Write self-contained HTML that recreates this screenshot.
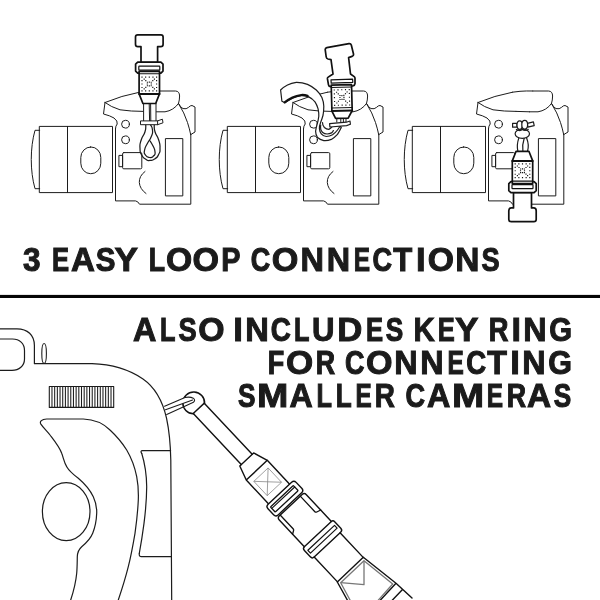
<!DOCTYPE html>
<html>
<head>
<meta charset="utf-8">
<title>3 Easy Loop Connections</title>
<style>
html,body{margin:0;padding:0;background:#fff;width:600px;height:600px;overflow:hidden}
svg{display:block}
text{font-family:"Liberation Sans",sans-serif;font-weight:bold;font-size:33.58px;fill:#1b1b1b;stroke:#1b1b1b;stroke-width:1.00px;stroke-linejoin:miter;vector-effect:non-scaling-stroke}
.c{fill:none;stroke:#1c1c1c;stroke-width:1;stroke-linejoin:round;stroke-linecap:round}
.w{fill:#fff;stroke:#1c1c1c;stroke-width:1;stroke-linejoin:round;stroke-linecap:round}
.k{fill:#fff;stroke:#111;stroke-width:1.7;stroke-linejoin:round;stroke-linecap:round}
.kn{fill:none;stroke:#111;stroke-width:1.7;stroke-linejoin:round;stroke-linecap:round}
.t{fill:none;stroke:#1c1c1c;stroke-width:0.8;stroke-linejoin:round;stroke-linecap:round}
.g{fill:none;stroke:#808080;stroke-width:0.7}
</style>
</head>
<body>
<svg width="600" height="600" viewBox="0 0 600 600">
<defs>
  <!-- camera (side view) in camera-1 coordinates -->
  <g id="lens">
    <rect class="c" x="39.7" y="126.4" width="72.8" height="66.2"/>
    <path class="c" d="M67.5,126.4V192.6"/>
    <path class="c" d="M39.7,130.3H35C30,148 30,171 35,188.7H39.7"/>
    <rect class="c" x="80.8" y="147" width="20" height="26.7" rx="9.8" ry="10.5"/>
  </g>
  <g id="bodytop">
    <!-- pentaprism top -->
    <path class="c" d="M105,102.5Q121.5,95.6 139.5,92.2"/>
    <path class="c" d="M159.8,91H175.5Q179.5,91.2 179.6,96Q179.6,100 178.5,103.5"/>
    <path class="c" d="M105,102.5Q111,107 120,109.8Q131,111.4 143,111.4"/>
    <path class="c" d="M156.5,111.8H165Q173.5,110.5 178.5,103.5"/>
    <!-- left shoulder -->
    <path class="c" d="M105,102.5L103.5,114Q110,115.6 114,118Q118,121 117.2,124Q115.5,126 115.5,128.5"/>
    <!-- right shoulder -->
    <path class="c" d="M178.5,103.5Q180.5,107.5 183,108.6Q186.5,109.4 188.5,107.4Q190.3,105.4 192,105.5L195,107V132L190.7,134.6"/>
    <path class="c" d="M178.5,103.5Q184.5,113 187.5,122.5Q189.6,129 190.7,134.6"/>
  </g>
  <g id="bodydetail">
    <circle class="c" cx="125.5" cy="124.2" r="3.9"/>
    <circle class="c" cx="125.5" cy="139.8" r="3.9"/>
    <rect class="c" x="165.8" y="138.6" width="17" height="57.3"/>
    <path class="c" d="M145,171.5Q139,176 139.3,182.5Q139.8,189 146,193.5"/>
  </g>
  <g id="port">
    <rect class="c" x="122.6" y="152.6" width="19.2" height="16.2" rx="1.2"/>
    <rect class="c" x="119.3" y="155.4" width="3.3" height="11.3"/>
  </g>
  <!-- connector, pointing up: origin = centre x, y=0 at bottom of taper -->
  <g id="cap1"><path class="k" d="M-11.6,-68.6Q-13.8,-68.6 -13.8,-66.4V-59.2Q-13.8,-56.8 -11.4,-56.8H-8.3V-41H8.3V-56.8H11.4Q13.8,-56.8 13.8,-59.2V-66.4Q13.8,-68.6 11.6,-68.6Z"/></g>
  <g id="cap3"><path class="k" d="M-11.4,-70.4Q-13.7,-70.4 -13.7,-68.2V-59.4Q-13.7,-56.6 -11.2,-56.6H-9V-41H9V-56.6H11.2Q13.7,-56.6 13.7,-59.4V-68.2Q13.7,-70.4 11.4,-70.4Z"/></g>
  <g id="conn">
    
    <path class="k" d="M-11.6,-41.4H11.6L13.7,-39.4V-32.4L11.6,-30.4H-11.6L-13.7,-32.4V-39.4Z"/>
    <rect class="k" x="-10.5" y="-37.4" width="21" height="4" rx="0.6" style="stroke-width:1.2"/>
    <path class="k" d="M-10.2,-32.2H10.2V-9.6L6.4,0H-6.4L-10.2,-9.6Z"/>
    <path class="kn" style="stroke-width:1.1" d="M-10.2,-29.8H10.2"/>
    <path class="kn" style="stroke-width:2" d="M-10.2,-9.6H10.2"/>
    <path d="M-7.88,-26.97h1.15v1.15h-1.15zM-7.88,-23.52h1.15v1.15h-1.15zM-7.88,-20.07h1.15v1.15h-1.15zM-7.88,-16.62h1.15v1.15h-1.15zM-7.88,-13.17h1.15v1.15h-1.15zM-5.69,-24.90h1.15v1.15h-1.15zM-5.69,-15.24h1.15v1.15h-1.15zM-4.22,-26.97h1.15v1.15h-1.15zM-4.22,-13.17h1.15v1.15h-1.15zM-4.08,-23.38h1.15v1.15h-1.15zM-4.08,-16.77h1.15v1.15h-1.15zM-2.58,-20.07h1.15v1.15h-1.15zM-2.47,-21.86h1.15v1.15h-1.15zM-2.47,-18.29h1.15v1.15h-1.15zM-0.57,-26.97h1.15v1.15h-1.15zM-0.57,-21.97h1.15v1.15h-1.15zM-0.57,-18.18h1.15v1.15h-1.15zM-0.57,-13.17h1.15v1.15h-1.15zM1.32,-21.86h1.15v1.15h-1.15zM1.32,-18.29h1.15v1.15h-1.15zM1.43,-20.07h1.15v1.15h-1.15zM2.92,-23.38h1.15v1.15h-1.15zM2.92,-16.77h1.15v1.15h-1.15zM3.08,-26.97h1.15v1.15h-1.15zM3.08,-13.17h1.15v1.15h-1.15zM4.54,-24.90h1.15v1.15h-1.15zM4.54,-15.24h1.15v1.15h-1.15zM6.72,-26.97h1.15v1.15h-1.15zM6.72,-23.52h1.15v1.15h-1.15zM6.72,-20.07h1.15v1.15h-1.15zM6.72,-16.62h1.15v1.15h-1.15zM6.72,-13.17h1.15v1.15h-1.15z" fill="#151515"/>
  </g>
</defs>

<rect x="0" y="0" width="600" height="600" fill="#fff"/>

<!-- ============ camera 1 ============ -->
<g>
  <use href="#lens"/>
  <use href="#bodytop"/>
  <use href="#bodydetail"/>
  <use href="#port"/>
  <path class="c" d="M115.5,128.5V200.9H135.5Q138,201.2 139.5,204.2H190.8V134.6"/>
  <!-- cord + loop -->
  <path class="c" d="M143.6,103.5V121M156,103.5V121M149.2,103.5L149.6,121M150.6,103.5L150.8,121"/>
  <path class="c" style="stroke-width:1.25" d="M145.8,124.6C145.5,127.0 146.5,126.6 145.0,131.7C143.5,136.8 142.9,134.5 141.2,140.0C139.5,145.5 139.8,143.3 140.0,148.3C140.2,153.3 139.8,151.4 141.7,155.0C143.6,158.6 143.0,157.4 145.8,159.2C148.6,161.0 146.9,160.6 150.0,160.4C153.1,160.2 152.1,160.8 155.0,158.7C157.9,156.6 157.0,157.7 158.7,154.2C160.4,150.7 160.0,153.0 160.0,148.3C160.0,143.6 160.4,145.5 158.7,140.0C157.0,134.5 156.5,136.8 155.0,131.7C153.5,126.6 154.5,127.0 154.2,124.6"/>
  <path class="c" style="stroke-width:1.25" d="M150.4,124.6C151.1,126.4 152.2,126.0 152.5,130.0C152.8,134.0 152.9,132.3 151.2,136.7C149.5,141.1 149.7,138.9 147.5,143.3C145.3,147.7 145.3,146.1 144.6,150.0C143.9,153.9 143.7,152.5 145.4,155.0C147.1,157.5 146.8,157.2 149.6,157.5C152.4,157.8 151.9,157.7 153.7,155.8C155.5,153.9 155.3,155.0 155.0,151.7C154.7,148.4 154.6,149.4 152.9,145.8C151.2,142.2 151.0,142.5 150.0,140.8"/>
  <path class="w" d="M140.9,120.9H157.6L162.4,119.2L163,122.8L157.6,124.7H140.9Z"/>
  <path class="c" d="M157.6,120.9V124.7"/>
  <use href="#cap1" transform="translate(149.3,103.5)"/>
  <use href="#conn" transform="translate(149.3,103.5)"/>
</g>

<!-- ============ camera 2 ============ -->
<g>
  <g transform="translate(188,0)">
    <use href="#lens"/>
    <use href="#bodytop"/>
    <use href="#bodydetail"/>
    <use href="#port"/>
    <path class="c" d="M115.5,128.5V200.9H135.5Q138,201.2 139.5,204.2H190.8V134.6"/>
    <path class="c" d="M139.5,92.2L147,91.3"/>
  </g>
  <!-- strap ribbon -->
  <path class="w" style="stroke-width:1.2" d="M280.6,90Q283.5,87 287.5,85Q291.5,83 296.3,82.3Q302,82.2 307.5,84.4Q312.5,86.6 316.3,90Q320,93.5 321.9,97.5Q323.6,101.5 323.8,106.3Q323.8,111 323.1,115Q322,119 320.6,122.5Q319.2,126 319.4,128.8Q319.6,131.8 321.3,133.8Q323.4,136.2 326.3,136.5Q329.6,136.4 332.5,134.8Q335.4,132.8 337.5,130Q339,128 340,126.3L341.3,127.5Q339.6,131 337.5,134.4Q334.8,137.4 331.3,139.4Q327.6,140.9 323.8,140.6Q320,139.8 317.5,137.5Q315.6,134.6 315.6,131.3Q316,128 316.9,125Q318.3,120.5 318.8,116.3Q318.9,112.5 318.1,108.8Q317,105 315,101.9Q312.3,98.6 308.8,96.9Q305.2,95.5 301.3,95.6Q296.6,96.4 292.5,98.1Q288.4,100.2 285,102.8L281.9,101.3Z"/>
  <path d="M284.6,102.4Q288.4,99.6 292.5,97.6Q296.6,95.8 301.3,95Q304.5,94.8 307.6,95.8" fill="none" stroke="#111" stroke-width="2.2" stroke-linecap="round"/>
  <!-- inner loops -->
  <path class="c" style="stroke-width:1.2" d="M322.5,122.5Q322.4,125.5 324.4,127.5Q326.4,129.4 328.8,129.4Q330.8,128.6 331.9,126.9"/>
  <path class="c" style="stroke-width:1.2" d="M320.7,125.2C320.2,128 321,131 322.7,132.5C324,133.6 325.5,134 327.1,134C328.8,133.9 330.2,133.5 331.5,132.9C332.3,132.4 332.9,131.8 333.4,130.6"/>
  <!-- connector 2 -->
  <path class="c" d="M336.8,118.3V122M340.8,118.3V122M343.4,118.3V122M346,118.3V122"/>
  <path class="w" style="stroke-width:1.2" d="M329.6,123.6L346.4,122.2L350,121L350.4,124.2L346.6,125.6L329.9,127Z"/>
  <path class="k" d="M326.8,47.6L349,43.6Q350.8,43.4 351.3,45L353.5,54Q353.8,55.8 352,56.4L348.6,57.6L350.5,74L354.2,76.6Q355,77.2 355,78.2V83.6Q354.8,85.6 352.8,85.8L330.8,86.7Q328.8,86.7 328.5,84.9L327.4,78.7Q327.3,77.7 328.2,77.1L333,74L331,59.6L328,59Q326.4,58.6 326.2,57L325.2,49.6Q325.2,47.9 326.8,47.6Z"/>
  <path class="k" style="stroke-width:1.2" d="M331,79.9L352.6,79.1L352.8,82.3L331.2,83.1Z"/>
  <g transform="rotate(-1.5 341.5 110.8)">
    <path class="k" d="M331.9,84.8H352.2V110.8L348,118.3H335.4L331.9,110.8Z"/>
    <path class="kn" style="stroke-width:2" d="M331.9,110.8H352.2"/>
    <path class="kn" style="stroke-width:1.1" d="M331.9,87.2H352.2M331.9,107.8H352.2"/>
    <path d="M334.23,89.22h1.15v1.15h-1.15zM334.23,93.08h1.15v1.15h-1.15zM334.23,96.92h1.15v1.15h-1.15zM334.23,100.77h1.15v1.15h-1.15zM334.23,104.62h1.15v1.15h-1.15zM336.48,91.53h1.15v1.15h-1.15zM336.48,102.31h1.15v1.15h-1.15zM337.98,89.22h1.15v1.15h-1.15zM337.98,104.62h1.15v1.15h-1.15zM338.12,93.22h1.15v1.15h-1.15zM338.12,100.62h1.15v1.15h-1.15zM339.73,96.92h1.15v1.15h-1.15zM339.78,94.92h1.15v1.15h-1.15zM339.78,98.92h1.15v1.15h-1.15zM341.73,89.22h1.15v1.15h-1.15zM341.73,95.02h1.15v1.15h-1.15zM341.73,98.83h1.15v1.15h-1.15zM341.73,104.62h1.15v1.15h-1.15zM343.68,94.92h1.15v1.15h-1.15zM343.68,98.92h1.15v1.15h-1.15zM343.73,96.92h1.15v1.15h-1.15zM345.33,93.22h1.15v1.15h-1.15zM345.33,100.62h1.15v1.15h-1.15zM345.48,89.22h1.15v1.15h-1.15zM345.48,104.62h1.15v1.15h-1.15zM346.98,91.53h1.15v1.15h-1.15zM346.98,102.31h1.15v1.15h-1.15zM349.23,89.22h1.15v1.15h-1.15zM349.23,93.08h1.15v1.15h-1.15zM349.23,96.92h1.15v1.15h-1.15zM349.23,100.77h1.15v1.15h-1.15zM349.23,104.62h1.15v1.15h-1.15z" fill="#151515"/>
  </g>
</g>

<!-- ============ camera 3 ============ -->
<g>
  <g transform="translate(373,0)">
    <use href="#lens"/>
    <use href="#bodytop"/>
    <use href="#bodydetail"/>
    <use href="#port"/>
    <path class="c" d="M115.5,128.5V200.9H135.5Q138,201.2 139.5,204.2H190.8V134.6"/>
    <path class="c" d="M139.5,92.2L147,91.3Q153,90.8 159.8,91"/>
    <path class="c" d="M143,111.4L156.5,111.8"/>
  </g>
  <!-- knot -->
  <path class="w" style="stroke-width:1.2" d="M512.6,123.4H517V127.2H512.6Z"/>
  <path class="w" style="stroke-width:1.2" d="M527.4,123.4L533.4,121.8L534.2,125.6L527.8,127.2Z"/>
  <ellipse class="w" style="stroke-width:1.2" cx="522.3" cy="133.7" rx="7.2" ry="4.6"/>
  <ellipse class="w" style="stroke-width:1.2" cx="519.7" cy="125.1" rx="2.7" ry="4.3"/>
  <ellipse class="w" style="stroke-width:1.2" cx="524.7" cy="124.8" rx="2.9" ry="4.4"/>
  <path class="c" style="stroke-width:1.2" d="M516.4,129.5Q520,131.5 522.3,129.6Q525,131.4 528.2,129.4"/>
  <path class="c" style="stroke-width:1.2" d="M518.8,138.1Q516.4,145 517.9,151.3M524.2,138.3Q522,145 522.9,151.3M526.6,138.1Q529.4,145 527.5,151.3"/>
  <use href="#cap3" transform="translate(522.5,151.3) scale(1,-1)"/>
  <use href="#conn" transform="translate(522.5,151.3) scale(1,-1)"/>
</g>

<!-- ============ bottom: compact camera + key ring ============ -->
<g>
  <!-- camera outline -->
  <path class="c" style="stroke-width:1.2" d="M0,328.8H17C27.5,328.8 34.4,335 34.4,345.5V363.7H92C112,364.3 130,370.2 143,379C156,388 163,403 166.5,418C169.5,432 170.5,445 170.8,460L171.7,600"/>
  <path class="c" style="stroke-width:1.2" d="M0,339H12.5C19.5,339 24.5,343.5 24.5,350.5V359C24.5,366 19,370.4 12,370.4H0"/>
  <ellipse class="c" style="stroke-width:1.1" cx="44.1" cy="353.5" rx="2.3" ry="10"/>
  <!-- ribbed dial -->
  <rect class="c" style="stroke-width:1.1" x="49.3" y="386.5" width="64.4" height="20.9"/>
  <path class="c" style="stroke-width:1.05;stroke-linecap:butt" d="M51.98,386.5V407.4M54.67,386.5V407.4M57.35,386.5V407.4M60.03,386.5V407.4M62.72,386.5V407.4M65.40,386.5V407.4M68.08,386.5V407.4M70.77,386.5V407.4M73.45,386.5V407.4M76.13,386.5V407.4M78.82,386.5V407.4M81.50,386.5V407.4M84.18,386.5V407.4M86.87,386.5V407.4M89.55,386.5V407.4M92.23,386.5V407.4M94.92,386.5V407.4M97.60,386.5V407.4M100.28,386.5V407.4M102.97,386.5V407.4M105.65,386.5V407.4M108.33,386.5V407.4M111.02,386.5V407.4"/>
  <!-- grip -->
  <path class="c" style="stroke-width:1.2" d="M46.7,419H83.3C95,419.5 104,424 110,430C118,437.5 123,444 126.7,450C132,459 135,468 136.7,476.7C138.3,485 138.6,492 138.3,500C137.8,511 136.6,522 135,533.3C133,545 131,556 128.3,566.7C125.5,578 122,589 118.3,600M46.7,419C41.5,419.2 39.6,421.6 40.7,423.8C43.5,428 47,431 50,435C55,441.5 59.5,447 61.7,453.3C63.5,458 64.3,463 66.7,466.7C69.5,471.5 74,475 78.3,478.3C85,484 90,490 93.3,496.7C96,502.5 96.9,508 96.7,513.3C96.4,521 95,527.5 92.7,533.3C90,540 85.6,543.5 81.7,546.7C78.5,549.5 77.4,552.5 77.3,556.7C77.2,562 77.2,568 76.7,573.3C75.8,583 73.5,591.5 70.7,600"/>
  <ellipse class="c" style="stroke-width:1.2" cx="66.2" cy="511.7" rx="23.8" ry="29"/>
  <!-- side panel -->
  <path class="c" style="stroke-width:1.2" d="M141.7,453.3C145,464 146.6,475 146.7,486.7C146.6,499 145.6,511 144,523.3C142.6,534 141,544 139.3,553.3"/>
  <path class="c" style="stroke-width:1.2" d="M170.6,450.7H142.5Q140,450.8 141.7,453.3M139.3,553.3Q138.8,556.6 141.5,556.7H171.4"/>
  <!-- key ring (drawn later, over the ball) -->
</g>
<!-- strap assembly (local frame along strap) -->
<g transform="translate(199.6,409.2) rotate(-43.15)">
  <!-- ball -->
  <path class="kn" style="stroke-width:1.5" d="M-7.6,-0.8A10.9,10.9 0 1 1 7.6,-0.8"/>
  <path class="kn" style="stroke-width:1.4" d="M-7.6,-1.2H7.6"/>
  <!-- tube -->
  <path class="kn" style="stroke-width:1.4" d="M-7.5,-1.2V68.9M7.5,-1.2V68.9"/>
  <!-- sleeve + body -->
  <path class="kn" style="stroke-width:1.4" d="M-9.5,68.9H9.5L14.4,83.6V117H-14.4V83.6ZM-14.4,83.6H14.4"/>
  <!-- diamond patch -->
  <rect class="g" x="-9.8" y="89.7" width="19.6" height="19.6"/>
  <path class="g" d="M-9.8,89.7L9.8,109.3M9.8,89.7L-9.8,109.3"/>
  <!-- collar -->
  <rect class="k" style="stroke-width:1.4" x="-18.2" y="116.2" width="38.6" height="14.6" rx="3.2"/>
  <rect class="kn" style="stroke-width:1.3" x="-15.2" y="119.8" width="31.4" height="7" rx="0.8"/>
  <path class="kn" style="stroke-width:1.1" d="M-15.2,121.8H16.2"/>
  <!-- buckle -->
  <path class="kn" style="stroke-width:1.4" d="M-14.7,132.4H16.4Q19.4,132.4 19.4,135.4V172H-17.7V135.4Q-17.7,132.4 -14.7,132.4Z"/>
  <path class="kn" style="stroke-width:1.3" d="M14,132.6V153.6Q14,154.8 15.2,155.1L19.4,156.4M-13.6,132.6V151.2Q-13.6,152.4 -14.6,152.9L-17.7,154.8"/>
  <!-- slider -->
  <path class="kn" style="stroke-width:1.4" d="M-17.7,172Q-20.2,172.1 -20.2,174.8V183.4Q-20.2,186.2 -17.5,186.2H18.8Q21.6,186.2 21.6,183.4V174.8Q21.6,172.1 19.4,172"/>
  <path class="kn" style="stroke-width:1.2" d="M-17.5,177H19M-17.5,180.8H19M-17.5,177V180.8M19,177V180.8"/>
  <!-- strap -->
  <path class="kn" style="stroke-width:1.4" d="M-17.5,186.2V220.3M18,186.2V220.3"/>
</g>
<!-- folded patch (absolute coords) -->
<path class="kn" style="stroke-width:1.4" d="M347.6,600.5L337.3,582L363.3,557.3L396,583.3L412,598M396,583.3L380,600.5M402.5,589.5L392,600.5"/>
<path d="M350.3,600.5L340.7,582.7L364,560.7L392.7,584L378,600.5" fill="none" stroke="#777" stroke-width="1.3" stroke-linejoin="round"/>
<path d="M340.7,582.7L364,584.7L364,560.7" fill="none" stroke="#777" stroke-width="1.3" stroke-linejoin="round"/>
<!-- key ring -->
<path d="M164.6,406.3L185,397.5Q190,396.5 193.3,398.2Q195.6,400.2 193.4,402.2L192.5,400L165.6,409.8Z" fill="#fff" stroke="none"/>
<path class="c" style="stroke-width:1.1" d="M164.6,406.3L185,397.5Q190,396.5 193.3,398.2Q195.8,400.3 193.4,402.2L183.7,406.7L166.7,414.6"/>
<path class="c" style="stroke-width:1.1" d="M165.5,409.7L192.6,400"/>
<rect x="0" y="294.9" width="600" height="3.1" fill="#050505"/>
<g opacity="0.999">
<text transform="translate(23.08 270.90) scale(0.941 1)">3</text>
<text transform="translate(52.08 270.90) scale(0.764 1)">E</text>
<text transform="translate(70.98 270.90) scale(0.986 1)">A</text>
<text transform="translate(95.65 270.90) scale(0.880 1)">S</text>
<text transform="translate(114.60 270.90) scale(1.048 1)">Y</text>
<text transform="translate(148.71 270.90) scale(0.795 1)">L</text>
<text transform="translate(166.02 270.90) scale(1.003 1)">O</text>
<text transform="translate(192.40 270.90) scale(1.016 1)">O</text>
<text transform="translate(221.27 270.90) scale(0.858 1)">P</text>
<text transform="translate(250.80 270.90) scale(0.802 1)">C</text>
<text transform="translate(271.80 270.90) scale(1.020 1)">O</text>
<text transform="translate(300.53 270.90) scale(0.968 1)">N</text>
<text transform="translate(326.64 270.90) scale(0.963 1)">N</text>
<text transform="translate(353.87 270.90) scale(0.727 1)">E</text>
<text transform="translate(372.39 270.90) scale(0.806 1)">C</text>
<text transform="translate(393.15 270.90) scale(0.926 1)">T</text>
<text transform="translate(415.88 270.90) scale(1.034 1)">I</text>
<text transform="translate(427.72 270.90) scale(1.003 1)">O</text>
<text transform="translate(455.26 270.90) scale(0.998 1)">N</text>
<text transform="translate(481.42 270.90) scale(0.810 1)">S</text>
<text transform="translate(132.99 340.80) scale(0.963 1)">A</text>
<text transform="translate(160.11 340.80) scale(0.754 1)">L</text>
<text transform="translate(178.42 340.80) scale(0.810 1)">S</text>
<text transform="translate(198.31 340.80) scale(1.007 1)">O</text>
<text transform="translate(233.18 340.80) scale(1.034 1)">I</text>
<text transform="translate(245.32 340.80) scale(0.973 1)">N</text>
<text transform="translate(270.86 340.80) scale(0.829 1)">C</text>
<text transform="translate(294.11 340.80) scale(0.754 1)">L</text>
<text transform="translate(311.93 340.80) scale(0.927 1)">U</text>
<text transform="translate(337.18 340.80) scale(1.034 1)">D</text>
<text transform="translate(366.08 340.80) scale(0.764 1)">E</text>
<text transform="translate(385.75 340.80) scale(0.780 1)">S</text>
<text transform="translate(413.53 340.80) scale(0.876 1)">K</text>
<text transform="translate(437.79 340.80) scale(0.759 1)">E</text>
<text transform="translate(454.90 340.80) scale(1.048 1)">Y</text>
<text transform="translate(488.68 340.80) scale(0.812 1)">R</text>
<text transform="translate(511.52 340.80) scale(1.013 1)">I</text>
<text transform="translate(523.34 340.80) scale(0.963 1)">N</text>
<text transform="translate(549.30 340.80) scale(0.874 1)">G</text>
<text transform="translate(267.69 373.60) scale(0.804 1)">F</text>
<text transform="translate(286.07 373.60) scale(1.042 1)">O</text>
<text transform="translate(315.71 373.60) scale(0.798 1)">R</text>
<text transform="translate(345.10 373.60) scale(0.802 1)">C</text>
<text transform="translate(366.10 373.60) scale(1.016 1)">O</text>
<text transform="translate(394.34 373.60) scale(0.963 1)">N</text>
<text transform="translate(420.34 373.60) scale(0.963 1)">N</text>
<text transform="translate(447.57 373.60) scale(0.727 1)">E</text>
<text transform="translate(466.37 373.60) scale(0.820 1)">C</text>
<text transform="translate(487.14 373.60) scale(0.961 1)">T</text>
<text transform="translate(510.18 373.60) scale(1.034 1)">I</text>
<text transform="translate(522.34 373.60) scale(0.963 1)">N</text>
<text transform="translate(548.25 373.60) scale(0.909 1)">G</text>
<text transform="translate(238.05 406.70) scale(0.780 1)">S</text>
<text transform="translate(256.98 406.70) scale(1.120 1)">M</text>
<text transform="translate(289.40 406.70) scale(0.959 1)">A</text>
<text transform="translate(316.51 406.70) scale(0.754 1)">L</text>
<text transform="translate(335.75 406.70) scale(0.778 1)">L</text>
<text transform="translate(355.58 406.70) scale(0.722 1)">E</text>
<text transform="translate(374.63 406.70) scale(0.830 1)">R</text>
<text transform="translate(405.39 406.70) scale(0.806 1)">C</text>
<text transform="translate(426.99 406.70) scale(0.963 1)">A</text>
<text transform="translate(451.92 406.70) scale(1.150 1)">M</text>
<text transform="translate(486.87 406.70) scale(0.727 1)">E</text>
<text transform="translate(506.71 406.70) scale(0.798 1)">R</text>
<text transform="translate(526.97 406.70) scale(0.994 1)">A</text>
<text transform="translate(553.75 406.70) scale(0.780 1)">S</text>
</g>
</svg>
</body>
</html>
